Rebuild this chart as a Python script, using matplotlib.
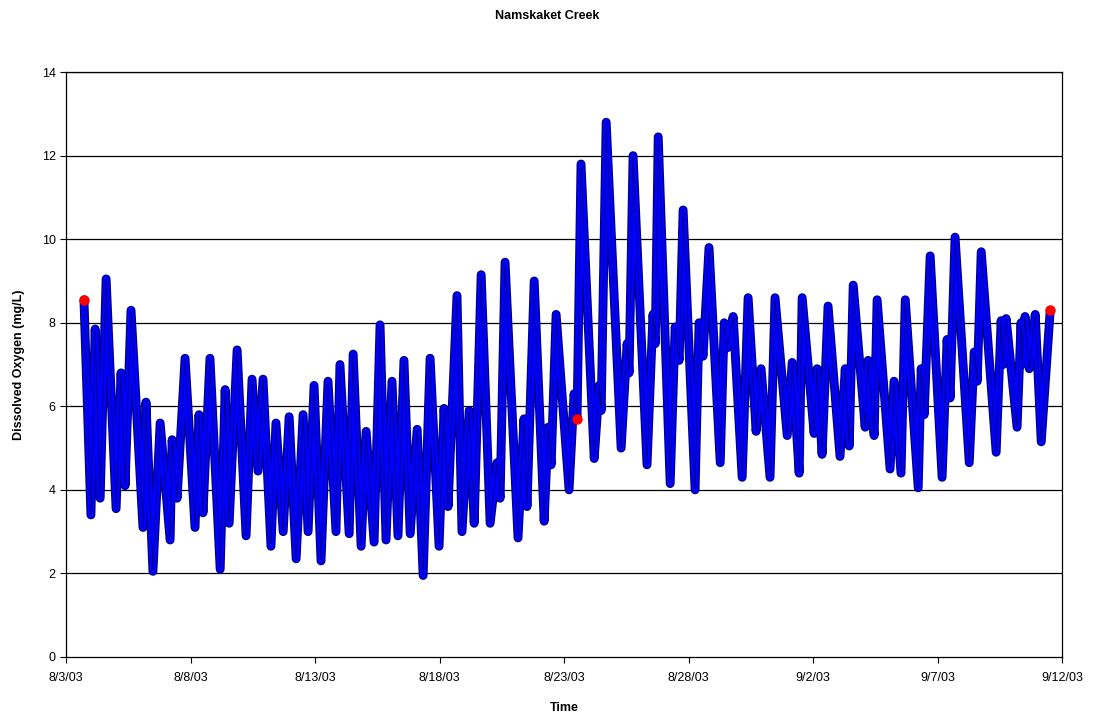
import matplotlib
matplotlib.use("Agg")
import matplotlib.pyplot as plt
import pandas as pd

# Dissolved oxygen turning points (days after 8/3/03 00:00, mg/L)
t_days = [
    0.72, 1.00, 1.17, 1.37, 1.61, 2.01, 2.21, 2.37, 2.61, 3.09,
    3.21, 3.49, 3.78, 4.18, 4.26, 4.46, 4.78, 5.18, 5.34, 5.50,
    5.78, 6.19, 6.39, 6.55, 6.87, 7.23, 7.47, 7.71, 7.91, 8.23,
    8.43, 8.72, 8.96, 9.24, 9.52, 9.72, 9.96, 10.24, 10.52, 10.84,
    11.00, 11.37, 11.53, 11.85, 12.05, 12.37, 12.61, 12.85, 13.09, 13.33,
    13.57, 13.82, 14.10, 14.34, 14.62, 14.98, 15.18, 15.34, 15.70, 15.90,
    16.19, 16.39, 16.67, 17.03, 17.31, 17.43, 17.63, 18.15, 18.39, 18.51,
    18.80, 19.20, 19.36, 19.48, 19.68, 20.20, 20.40, 20.52, 20.68, 21.21,
    21.41, 21.49, 21.69, 22.29, 22.53, 22.61, 22.77, 23.33, 23.57, 23.66,
    23.78, 24.26, 24.46, 24.62, 24.78, 25.26, 25.42, 25.58, 25.82, 26.27,
    26.43, 26.55, 26.79, 27.15, 27.39, 27.71, 27.91, 28.27, 28.47, 28.96,
    29.16, 29.44, 29.56, 30.04, 30.16, 30.36, 30.60, 31.08, 31.29, 31.45,
    31.61, 32.09, 32.21, 32.45, 32.57, 33.09, 33.25, 33.53, 33.70, 34.22,
    34.34, 34.46, 34.70, 35.18, 35.38, 35.50, 35.70, 36.27, 36.47, 36.59,
    36.75, 37.35, 37.55, 37.63, 37.75, 38.19, 38.35, 38.39, 38.51, 38.68,
    38.92, 39.16, 39.52,
]
do_mgL = [
    8.55, 3.40, 7.85, 3.80, 9.05, 3.55, 6.80, 4.10, 8.30, 3.10,
    6.10, 2.05, 5.60, 2.80, 5.20, 3.80, 7.15, 3.10, 5.80, 3.45,
    7.15, 2.10, 6.40, 3.20, 7.35, 2.90, 6.65, 4.45, 6.65, 2.65,
    5.60, 3.00, 5.75, 2.35, 5.80, 3.00, 6.50, 2.30, 6.60, 3.00,
    7.00, 2.95, 7.25, 2.65, 5.40, 2.75, 7.95, 2.80, 6.60, 2.90,
    7.10, 2.95, 5.45, 1.95, 7.15, 2.65, 5.95, 3.60, 8.65, 3.00,
    5.90, 3.20, 9.15, 3.20, 4.65, 3.80, 9.45, 2.85, 5.70, 3.60,
    9.00, 3.25, 5.50, 4.60, 8.20, 4.00, 6.30, 5.70, 11.80, 4.75,
    6.50, 5.90, 12.80, 5.00, 7.50, 6.80, 12.00, 4.60, 8.20, 7.50,
    12.45, 4.15, 7.90, 7.10, 10.70, 4.00, 8.00, 7.20, 9.80, 4.65,
    8.00, 7.40, 8.15, 4.30, 8.60, 5.40, 6.90, 4.30, 8.60, 5.30,
    7.05, 4.40, 8.60, 5.35, 6.90, 4.85, 8.40, 4.80, 6.90, 5.05,
    8.90, 5.50, 7.10, 5.30, 8.55, 4.50, 6.60, 4.40, 8.55, 4.05,
    6.90, 5.80, 9.60, 4.30, 7.60, 6.20, 10.05, 4.65, 7.30, 6.60,
    9.70, 4.90, 8.05, 7.00, 8.10, 5.50, 8.00, 7.00, 8.15, 6.90,
    8.20, 5.15, 8.30,
]
# readings flagged in red (deployment start, mid check, end)
flag_idx = [0, 77, 152]

start = pd.Timestamp("2003-08-03")
end = pd.Timestamp("2003-09-12")
times = start + pd.to_timedelta(t_days, unit="D")
tick_dates = pd.date_range(start, end, freq="5D")
y_ticks = list(range(0, 15, 2))

plt.rcParams["font.family"] = ["Liberation Sans", "DejaVu Sans"]

fig = plt.figure(figsize=(10.95, 7.21), dpi=100)
ax = fig.add_axes([0.0603, 0.0888, 0.9097, 0.8112])

# horizontal gridlines behind the data
for y in y_ticks[1:]:
    ax.axhline(y, color="black", linewidth=0.9, zorder=1)

# series drawn as a dark-edged blue band of overlapping readings
ax.plot(times, do_mgL, color="#000080", linewidth=6.4,
        solid_joinstyle="round", solid_capstyle="round", zorder=2)
ax.plot(times, do_mgL, color="#0000FF", linewidth=4.6,
        solid_joinstyle="round", solid_capstyle="round", zorder=3)
ax.plot(times, do_mgL, color="#000080", linewidth=0.6, zorder=4)

flag_t = [times[i] for i in flag_idx]
flag_v = [do_mgL[i] for i in flag_idx]
ax.plot(flag_t, flag_v, linestyle="none", marker="o", markersize=6.5,
        markerfacecolor="#FF0000", markeredgecolor="#FF0000", zorder=5)

ax.set_xlim(start, end)
ax.set_ylim(0, 14)
ax.set_xticks(tick_dates)
ax.set_xticklabels([f"{d.month}/{d.day}/{d:%y}" for d in tick_dates])
ax.set_yticks(y_ticks)
ax.tick_params(axis="both", direction="out", length=4, width=0.8,
               labelsize=9, colors="black")
ax.tick_params(axis="x", pad=7)

for side in ["left", "right", "top", "bottom"]:
    ax.spines[side].set_color("black")
    ax.spines[side].set_linewidth(0.9)

fig.suptitle("Namskaket Creek", fontsize=9, fontweight="bold", y=0.986)
ax.set_xlabel("Time", fontsize=9, fontweight="bold", labelpad=13)
ax.set_ylabel("Dissolved Oxygen (mg/L)", fontsize=9, fontweight="bold", labelpad=12)

fig.savefig("out.png", dpi=100, facecolor="white")
